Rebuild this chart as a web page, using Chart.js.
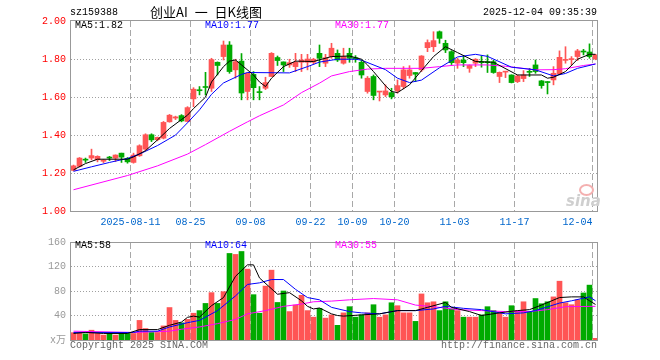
<!DOCTYPE html>
<html><head><meta charset="utf-8">
<script src="https://cdn.jsdelivr.net/npm/chart.js@4/dist/chart.umd.min.js"></script>
<style>
html,body{margin:0;padding:0;background:#fff;}
#wrap{position:relative;width:660px;height:360px;overflow:hidden;font-family:"Liberation Mono","DejaVu Sans Mono",monospace;}
canvas{position:absolute;left:0;}
.t{position:absolute;white-space:pre;font-size:10px;line-height:12px;}
#logo{position:absolute;left:579px;top:184px;width:11px;height:8px;border-radius:50%;border:2px solid #f4b0b0;}
</style></head><body>
<div id="wrap">
<canvas id="k" width="660" height="232" style="top:0;width:660px;height:232px"></canvas>
<canvas id="v" width="660" height="128" style="top:232px;width:660px;height:128px"></canvas>
<div class="t" style="left:70px;top:7px;color:#000">sz159388</div>
<div class="t" style="left:150px;top:4px;font-family:'Noto Sans CJK SC';font-size:13px;line-height:16px;color:#000;word-spacing:4px">创业AI 一 日K线图</div>
<div class="t" style="left:483px;top:7px;color:#000">2025-12-04 09:35:39</div>
<div class="t" style="left:75px;top:20px;color:#000">MA5:1.82</div>
<div class="t" style="left:205px;top:20px;color:#0000ff">MA10:1.77</div>
<div class="t" style="left:335px;top:20px;color:#ff00ff">MA30:1.77</div>
<div class="t" style="left:75px;top:240px;color:#000">MA5:58</div>
<div class="t" style="left:205px;top:240px;color:#0000ff">MA10:64</div>
<div class="t" style="left:335px;top:240px;color:#ff00ff">MA30:55</div>
<div class="t" style="left:70px;top:340px;color:#666">Copyright 2025 SINA.COM</div>
<div class="t" style="left:441px;top:340px;color:#666">http://finance.sina.com.cn</div>
<div id="logo"></div>
<div class="t" style="left:566px;top:192px;font-family:'DejaVu Sans';font-size:15px;line-height:18px;font-weight:bold;font-style:italic;color:#cfcfcf">sina</div>
</div>
<script>
// ---- data ----
const tickIdx = [10, 20, 30, 40, 47, 54, 64, 74, 87];
const tickLabels = ['2025-08-11', '08-25', '09-08', '09-22', '10-09', '10-20', '11-03', '11-17', '12-04'];
const priceTicks = [1.0, 1.2, 1.4, 1.6, 1.8, 2.0];
const volTicks = [0, 40, 80, 120, 160];

const openP = [1.214,1.235,1.271,1.279,1.270,1.262,1.281,1.279,1.305,1.277,
1.256,1.291,1.326,1.402,1.376,1.384,1.470,1.490,1.503,1.472,
1.591,1.638,1.656,1.647,1.784,1.814,1.875,1.744,1.790,1.630,
1.720,1.628,1.647,1.709,1.809,1.786,1.770,1.761,1.784,1.784,
1.784,1.831,1.779,1.814,1.831,1.779,1.831,1.807,1.784,1.630,
1.709,1.627,1.612,1.624,1.633,1.656,1.714,1.730,1.744,1.861,
1.866,1.945,1.884,1.840,1.779,1.796,1.752,1.779,1.786,1.786,
1.787,1.709,1.732,1.717,1.682,1.698,1.733,1.770,1.686,1.679,
1.691,1.723,1.794,1.798,1.814,1.840,1.838,1.802];
const highP = [1.242,1.282,1.279,1.326,1.291,1.270,1.288,1.296,1.305,1.282,
1.305,1.349,1.407,1.407,1.390,1.472,1.509,1.500,1.508,1.550,
1.650,1.656,1.731,1.805,1.786,1.896,1.893,1.800,1.830,1.730,
1.735,1.656,1.705,1.835,1.817,1.786,1.800,1.831,1.826,1.826,
1.805,1.875,1.826,1.884,1.849,1.858,1.858,1.819,1.796,1.709,
1.717,1.630,1.665,1.647,1.691,1.761,1.766,1.730,1.819,1.902,
1.945,1.949,1.900,1.845,1.805,1.817,1.770,1.803,1.817,1.823,
1.795,1.733,1.736,1.718,1.717,1.740,1.752,1.796,1.688,1.682,
1.761,1.844,1.866,1.814,1.852,1.852,1.881,1.826];
const lowP = [1.212,1.232,1.256,1.270,1.259,1.255,1.266,1.261,1.256,1.252,
1.252,1.288,1.319,1.366,1.370,1.380,1.468,1.482,1.470,1.470,
1.550,1.612,1.612,1.630,1.717,1.796,1.726,1.700,1.586,1.586,
1.586,1.586,1.640,1.709,1.767,1.735,1.757,1.735,1.735,1.744,
1.774,1.761,1.761,1.805,1.788,1.774,1.784,1.784,1.700,1.621,
1.586,1.580,1.603,1.591,1.621,1.644,1.700,1.682,1.735,1.840,
1.840,1.884,1.835,1.772,1.752,1.761,1.731,1.761,1.758,1.730,
1.726,1.677,1.703,1.675,1.677,1.682,1.709,1.726,1.647,1.617,
1.665,1.718,1.779,1.770,1.793,1.823,1.805,1.797];
const closeP = [1.238,1.279,1.268,1.292,1.288,1.268,1.279,1.295,1.284,1.259,
1.295,1.344,1.402,1.375,1.388,1.467,1.505,1.496,1.475,1.545,
1.642,1.634,1.651,1.798,1.767,1.875,1.735,1.787,1.622,1.726,
1.650,1.624,1.677,1.831,1.793,1.770,1.782,1.784,1.796,1.801,
1.800,1.805,1.808,1.858,1.796,1.814,1.805,1.803,1.717,1.700,
1.609,1.630,1.633,1.602,1.661,1.744,1.744,1.721,1.817,1.888,
1.898,1.910,1.849,1.782,1.796,1.782,1.767,1.800,1.782,1.782,
1.730,1.731,1.735,1.677,1.712,1.717,1.731,1.735,1.661,1.677,
1.726,1.810,1.796,1.800,1.844,1.838,1.814,1.823];
const volume = [12,12,10,16,10.7,8,10.7,8,10.7,10.7,
10.7,32,18.7,12.3,12.3,23,53,32,28,33.6,
43.7,48,59.7,77.3,59.7,78.9,141.3,139.7,144.5,115.7,
74,43.7,88,114,61.3,80,46.4,57,73,48,
37.3,51.7,35.7,41,24,44.3,54.4,37.3,41,44.3,
57.6,37.3,41,60.8,56,44.3,44.3,30.4,75.2,60.8,
62.4,48,62.4,50.7,48,37.3,37.3,37.3,41,54.4,
48,44.3,37.3,56,48,62.4,46.4,67.7,59.2,62.4,
70.4,96,60.8,57.6,65.6,76.8,89.6,2.7];

// moving-average lines as [day index, value]
const ma5Price = [[0,1.217],[2,1.250],[4,1.273],[9,1.273],[10,1.285],[12,1.318],[14,1.375],[16,1.435],[18,1.482],[19,1.505],[20,1.540],[21,1.570],[22,1.600],[23,1.680],[25,1.761],[26,1.790],[27,1.796],[28,1.770],[30,1.717],[31,1.680],[32,1.656],[33,1.700],[35,1.761],[37,1.790],[40,1.788],[43,1.814],[46,1.817],[48,1.800],[49,1.770],[50,1.735],[52,1.660],[53,1.630],[54,1.624],[56,1.665],[58,1.740],[60,1.814],[62,1.866],[64,1.835],[67,1.788],[70,1.784],[74,1.717],[78,1.717],[79,1.700],[80,1.705],[82,1.735],[84,1.800],[86,1.826],[87,1.826]];
const ma10Price = [[0,1.209],[3,1.233],[6,1.256],[9,1.277],[11,1.300],[14,1.345],[17,1.400],[19,1.465],[21,1.533],[23,1.615],[25,1.675],[28,1.720],[29,1.730],[36,1.728],[39,1.761],[41,1.785],[44,1.800],[47,1.800],[48,1.795],[52,1.745],[54,1.700],[56,1.677],[58,1.690],[61,1.755],[63,1.793],[64,1.812],[67,1.826],[69,1.815],[73,1.758],[77,1.744],[80,1.712],[82,1.725],[84,1.752],[87,1.775]];
const ma30Price = [[0,1.112],[9,1.187],[14,1.238],[19,1.300],[22,1.350],[26,1.420],[29,1.470],[31,1.502],[35,1.559],[38,1.624],[41,1.674],[43,1.712],[46,1.735],[49,1.748],[52,1.752],[58,1.752],[61,1.761],[64,1.770],[69,1.770],[72,1.763],[77,1.744],[80,1.745],[82,1.750],[85,1.767],[87,1.775]];
const ma5Vol = [[0,10.7],[2,12.3],[5,10.7],[9,10.7],[11,17],[14,17],[16,24],[18,29.3],[19,37],[20,39],[21,37.3],[23,56],[25,69.3],[27,104],[29,122.7],[30,122.7],[31,101.3],[34,74.7],[36,77.3],[38,64],[39,55],[40,50.7],[41,52.3],[43,42.7],[44,40],[45,39],[48,41],[51,42.7],[54,48],[57,48],[59,53.3],[62,61.3],[63,53.3],[66,46.4],[68,40],[71,44.3],[74,48],[76,49.6],[78,57],[81,69.3],[83,70.4],[85,70.4],[86,64],[87,58]];
const ma10Vol = [[0,12.3],[10,12.3],[11,14.4],[14,14.4],[16,21.3],[19,28.3],[21,32],[24,48],[27,72],[29,90.7],[31,93.3],[33,98.7],[35,98.7],[37,82.7],[39,69.3],[41,65.6],[43,53.3],[46,46.4],[48,44.3],[51,42.7],[54,48],[57,48],[60,50.7],[62,54.9],[65,51.7],[68,49.6],[72,42.7],[75,44.3],[77,48],[81,60.3],[83,64],[86,70.4],[87,64]];
const ma30Vol = [[0,14.4],[10,12.3],[13,13.3],[16,14.4],[18,17.6],[21,21.3],[24,26.7],[27,33.6],[29,42.7],[32,48],[35,54.9],[38,58.7],[40,62.4],[43,63.5],[46,65.6],[50,67.7],[54,65.6],[57,57],[60,54.4],[64,49.6],[68,48],[72,46.4],[76,46.4],[79,49.6],[82,54.4],[87,55]];

// ---- styles ----
const UP = '#ff5555', DOWN = '#00aa00';
const MONO = {family: "'Liberation Mono','DejaVu Sans Mono',monospace", size: 10};
const idx = openP.map((_, i) => i);
const colors = idx.map(i => closeP[i] >= openP[i] ? UP : DOWN);
const X_MIN = -0.5 - 0.5 / 6, X_MAX = X_MIN + 527 / 6;

// dashed / dotted grid drawn as small solid pieces at the chart's own scale positions
function drawGrid(chart) {
  const {ctx, chartArea: a, scales} = chart;
  const x = scales.x, y = scales.y;
  const top = Math.round(a.top), bottom = Math.round(a.bottom);
  const left = Math.round(a.left), right = Math.round(a.right);
  ctx.save();
  ctx.fillStyle = '#a8a8a8';
  tickIdx.forEach(v => {
    const px = Math.round(x.getPixelForValue(v - 0.5) - 0.5);
    for (let yy = top + 1; yy < bottom; yy += 9) {
      ctx.fillRect(px, yy, 1, Math.min(6, bottom - yy));
    }
  });
  ctx.fillStyle = '#a0a0a0';
  const yt = chart.canvas.id === 'k' ? priceTicks : volTicks;
  yt.slice(1, -1).forEach(v => {
    const py = Math.round(y.getPixelForValue(v) - 0.5);
    for (let xx = left + 1; xx < right; xx += 3) {
      ctx.fillRect(xx, py, 1, 1);
    }
  });
  ctx.restore();
}

const framePlugin = {
  id: 'frame',
  beforeDatasetsDraw(chart) { drawGrid(chart); },
  afterDraw(chart) {
    const {ctx, chartArea: a} = chart;
    ctx.save();
    ctx.strokeStyle = '#999';
    ctx.lineWidth = 1;
    ctx.strokeRect(Math.round(a.left) + 0.5, Math.round(a.top) + 0.5, Math.round(a.right - a.left), Math.round(a.bottom - a.top));
    ctx.restore();
  }
};

function xScale(showLabels) {
  return {
    type: 'linear', min: X_MIN, max: X_MAX, offset: false,
    afterBuildTicks: s => { s.ticks = tickIdx.map(v => ({value: v - 0.5})); },
    afterFit: s => { s.height = showLabels ? 21 : 0; },
    grid: {display: false, offset: false, drawTicks: false},
    border: {display: false},
    ticks: {display: showLabels, autoSkip: false, maxRotation: 0, minRotation: 0, padding: 5,
      color: '#0066cc', font: MONO,
      callback: (v, i) => i === tickLabels.length - 1 ? tickLabels[i] + '     ' : tickLabels[i]}
  };
}
const pts = arr => arr.map(([x, y]) => ({x, y}));
const line = (arr, color) => ({type: 'line', data: pts(arr), borderColor: color, borderWidth: 1,
  pointRadius: 0, pointHoverRadius: 0, tension: 0, fill: false, order: 0});

const common = {
  responsive: false, maintainAspectRatio: false, devicePixelRatio: 1, animation: false,
  events: [],
  plugins: {legend: {display: false}, tooltip: {enabled: false}, title: {display: false}}
};

new Chart(document.getElementById('k'), {
  type: 'bar',
  data: {datasets: [
    line(ma5Price, '#000000'),
    line(ma10Price, '#0000ff'),
    line(ma30Price, '#ff00ff'),
    {type: 'bar', data: idx.map(i => ({x: i, y: [openP[i], closeP[i]]})), backgroundColor: colors,
      borderWidth: 0, barThickness: 5, minBarLength: 1, grouped: false, order: 1},
    {type: 'bar', data: idx.map(i => ({x: i, y: [lowP[i], highP[i]]})), backgroundColor: colors,
      borderWidth: 0, barThickness: 1, minBarLength: 1, grouped: false, order: 2}
  ]},
  options: Object.assign({}, common, {
    layout: {padding: {left: 0, right: 63, top: 20, bottom: 0}},
    scales: {
      x: xScale(true),
      y: {type: 'linear', position: 'left', min: 1.0, max: 2.0068,
        afterBuildTicks: s => { s.ticks = priceTicks.map(v => ({value: v})); },
        afterFit: s => { s.width = 70; },
        grid: {display: false, drawTicks: false},
        border: {display: false},
        ticks: {color: '#ff0000', padding: 4, font: MONO, callback: v => Number(v).toFixed(2)}
      }
    }
  }),
  plugins: [framePlugin]
});

new Chart(document.getElementById('v'), {
  type: 'bar',
  data: {datasets: [
    line(ma5Vol, '#000000'),
    line(ma10Vol, '#0000ff'),
    line(ma30Vol, '#ff00ff'),
    {type: 'bar', data: idx.map(i => ({x: i, y: volume[i]})), backgroundColor: colors,
      borderWidth: 0, barThickness: 5, grouped: false, order: 1}
  ]},
  options: Object.assign({}, common, {
    layout: {padding: {left: 0, right: 63, top: 8, bottom: 20}},
    scales: {
      x: xScale(false),
      y: {type: 'linear', position: 'left', min: 0, max: 160,
        afterBuildTicks: s => { s.ticks = volTicks.map(v => ({value: v})); },
        afterFit: s => { s.width = 70; },
        grid: {display: false, drawTicks: false},
        border: {display: false},
        ticks: {color: '#999', padding: 4, font: {family: "'Liberation Mono','Noto Sans CJK SC',monospace", size: 10},
          callback: v => v === 0 ? 'x万' : String(v)}
      }
    }
  }),
  plugins: [framePlugin]
});
</script>
</body></html>
